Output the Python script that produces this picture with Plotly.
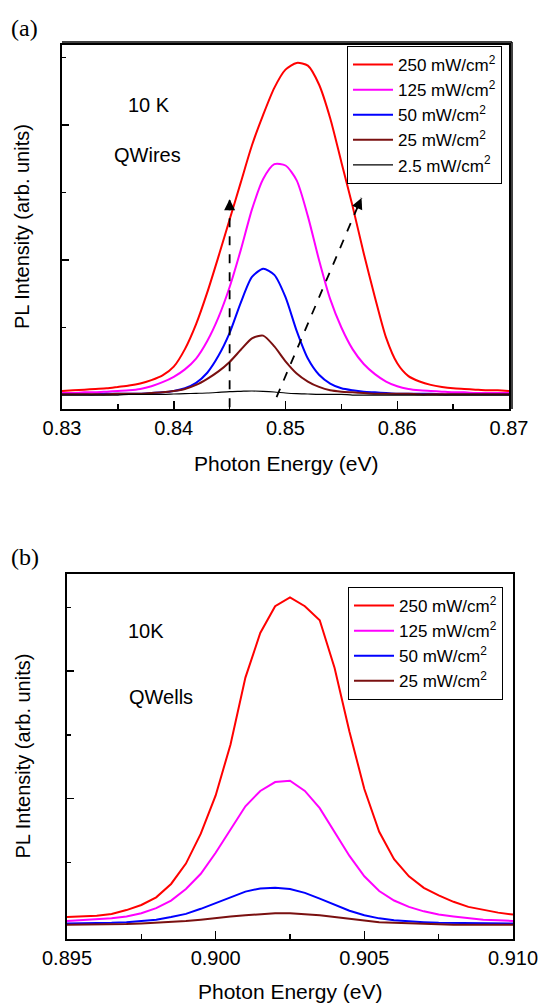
import plotly.graph_objects as go

W, H = 542, 1003

# ---------------- Panel (a): QWires ----------------
energy_a = [0.830, 0.831, 0.832, 0.833, 0.834, 0.835, 0.836, 0.837, 0.838, 0.839,
            0.840, 0.841, 0.842, 0.843, 0.844, 0.845, 0.846, 0.847, 0.848, 0.849,
            0.850, 0.851, 0.852, 0.853, 0.854, 0.855, 0.856, 0.857, 0.858, 0.859,
            0.860, 0.861, 0.862, 0.863, 0.864, 0.865, 0.866, 0.867, 0.868, 0.869, 0.870]
a_250 = [0.06, 0.07, 0.08, 0.09, 0.10, 0.12, 0.14, 0.17, 0.22, 0.29,
         0.42, 0.68, 1.05, 1.52, 2.05, 2.60, 3.15, 3.70, 4.15, 4.55,
         4.82, 4.92, 4.88, 4.60, 4.10, 3.45, 2.80, 2.10, 1.45, 0.85,
         0.47, 0.28, 0.20, 0.15, 0.12, 0.10, 0.09, 0.08, 0.07, 0.07, 0.06]
a_125 = [0.03, 0.03, 0.04, 0.04, 0.05, 0.06, 0.07, 0.09, 0.13, 0.19,
         0.27, 0.38, 0.54, 0.80, 1.15, 1.60, 2.15, 2.75, 3.20, 3.42,
         3.40, 3.18, 2.65, 2.00, 1.42, 1.00, 0.68, 0.46, 0.31, 0.20,
         0.13, 0.09, 0.07, 0.06, 0.05, 0.04, 0.04, 0.03, 0.03, 0.03, 0.03]
a_50 = [0.01, 0.01, 0.01, 0.01, 0.02, 0.02, 0.02, 0.02, 0.03, 0.04,
        0.06, 0.10, 0.18, 0.33, 0.58, 0.92, 1.37, 1.75, 1.87, 1.78,
        1.45, 0.95, 0.54, 0.30, 0.17, 0.10, 0.07, 0.05, 0.04, 0.03,
        0.02, 0.02, 0.02, 0.02, 0.01, 0.01, 0.01, 0.01, 0.01, 0.01, 0.01]
a_25 = [0.01, 0.01, 0.01, 0.01, 0.01, 0.02, 0.02, 0.02, 0.03, 0.04,
        0.06, 0.09, 0.15, 0.24, 0.35, 0.49, 0.67, 0.84, 0.88, 0.72,
        0.50, 0.32, 0.20, 0.12, 0.07, 0.05, 0.04, 0.03, 0.02, 0.02,
        0.02, 0.02, 0.01, 0.01, 0.01, 0.01, 0.01, 0.01, 0.01, 0.01, 0.01]
a_2p5 = [0.00, 0.00, 0.00, 0.00, 0.00, 0.00, 0.01, 0.01, 0.01, 0.01,
         0.015, 0.02, 0.025, 0.03, 0.04, 0.05, 0.055, 0.06, 0.055, 0.045,
         0.03, 0.02, 0.015, 0.01, 0.01, 0.01, 0.00, 0.00, 0.00, 0.00,
         0.00, 0.00, 0.00, 0.00, 0.00, 0.00, 0.00, 0.00, 0.00, 0.00, 0.00]

# dashed arrows (start -> end), data coordinates
arrow1_x = [0.845, 0.845]
arrow1_y = [-0.18, 2.90]
arrow2_x = [0.8492, 0.8568]
arrow2_y = [-0.03, 2.92]

# ---------------- Panel (b): QWells ----------------
energy_b = [0.8950, 0.8955, 0.8960, 0.8965, 0.8970, 0.8975, 0.8980, 0.8985, 0.8990, 0.8995,
            0.9000, 0.9005, 0.9010, 0.9015, 0.9020, 0.9025, 0.9030, 0.9035, 0.9040, 0.9045,
            0.9050, 0.9055, 0.9060, 0.9065, 0.9070, 0.9075, 0.9080, 0.9085, 0.9090, 0.9095, 0.9100]
b_250 = [0.14, 0.15, 0.16, 0.19, 0.25, 0.33, 0.45, 0.66, 0.98, 1.45,
         2.05, 2.85, 3.90, 4.60, 5.02, 5.16, 5.02, 4.80, 4.05, 3.05,
         2.15, 1.48, 1.05, 0.78, 0.60, 0.48, 0.38, 0.30, 0.25, 0.21, 0.18]
b_125 = [0.08, 0.09, 0.10, 0.12, 0.15, 0.20, 0.28, 0.40, 0.58, 0.82,
         1.15, 1.52, 1.88, 2.12, 2.26, 2.28, 2.12, 1.85, 1.48, 1.10,
         0.78, 0.55, 0.40, 0.30, 0.23, 0.18, 0.15, 0.12, 0.10, 0.09, 0.08]
b_50 = [0.04, 0.04, 0.05, 0.05, 0.06, 0.08, 0.10, 0.14, 0.19, 0.27,
        0.36, 0.46, 0.54, 0.59, 0.60, 0.58, 0.52, 0.43, 0.33, 0.24,
        0.17, 0.12, 0.09, 0.07, 0.06, 0.05, 0.05, 0.04, 0.04, 0.04, 0.04]
b_25 = [0.02, 0.02, 0.02, 0.03, 0.03, 0.04, 0.05, 0.06, 0.08, 0.10,
        0.13, 0.15, 0.17, 0.19, 0.20, 0.20, 0.19, 0.17, 0.14, 0.11,
        0.08, 0.06, 0.05, 0.04, 0.03, 0.03, 0.02, 0.02, 0.02, 0.02, 0.02]

labels_a = ["250 mW/cm<sup>2</sup>", "125 mW/cm<sup>2</sup>", "50 mW/cm<sup>2</sup>",
            "25 mW/cm<sup>2</sup>", "2.5 mW/cm<sup>2</sup>"]
labels_b = labels_a[:4]
colors = ["#FF0000", "#FF00FF", "#0000FF", "#7A1010", "#000000"]
widths = [2, 2, 2, 2, 1.2]

xticks_a = [0.83, 0.84, 0.85, 0.86, 0.87]
xticks_b = [0.895, 0.900, 0.905, 0.910]

FONT = "Liberation Sans, Arial, sans-serif"

fig = go.Figure()

for ys, lab, c, w in zip([a_250, a_125, a_50, a_25, a_2p5], labels_a, colors, widths):
    fig.add_trace(go.Scatter(x=energy_a, y=ys, mode="lines", name=lab,
                             line=dict(color=c, width=w, shape="spline", smoothing=0.7),
                             legend="legend", xaxis="x", yaxis="y"))

for ax_, ay_ in [(arrow1_x, arrow1_y), (arrow2_x, arrow2_y)]:
    fig.add_trace(go.Scatter(x=ax_, y=ay_, mode="lines", showlegend=False,
                             line=dict(color="black", width=1.8, dash="dash"),
                             xaxis="x", yaxis="y", hoverinfo="skip"))
    dx = ax_[1] - ax_[0]
    dy = ay_[1] - ay_[0]
    fig.add_annotation(x=ax_[1], y=ay_[1], ax=ax_[1] - dx * 0.06, ay=ay_[1] - dy * 0.06,
                       xref="x", yref="y", axref="x", ayref="y", text="",
                       showarrow=True, arrowhead=2, arrowsize=1.1, arrowwidth=2,
                       arrowcolor="black")

for ys, lab, c, w in zip([b_250, b_125, b_50, b_25], labels_b, colors, widths):
    fig.add_trace(go.Scatter(x=energy_b, y=ys, mode="lines", name=lab,
                             line=dict(color=c, width=w),
                             legend="legend2", xaxis="x2", yaxis="y2"))

def px_x(p):
    return p / W

def px_y(p):
    return 1 - p / H

# panel geometry in pixels
A_L, A_R, A_T, A_B = 62, 509, 45, 409
B_L, B_R, B_T, B_B = 67, 513, 574, 939

tickfont = dict(family=FONT, size=20, color="black")

common_axis = dict(showline=True, linecolor="black", linewidth=2, mirror=True,
                   showgrid=False, zeroline=False, ticks="inside", tickcolor="black",
                   tickwidth=1.5, automargin=False, fixedrange=True)

legend_style = dict(xanchor="left", yanchor="top", bordercolor="black", borderwidth=1,
                    bgcolor="white", font=dict(family=FONT, size=17, color="black"),
                    tracegroupgap=0, itemwidth=40)

fig.update_layout(
    width=W, height=H, margin=dict(l=0, r=0, t=0, b=0),
    paper_bgcolor="white", plot_bgcolor="white", template="none",
    font=dict(family=FONT, size=18, color="black"),
    xaxis=dict(domain=[px_x(A_L), px_x(A_R)], range=[0.83, 0.87], anchor="y",
               tickvals=xticks_a, ticktext=[f"{v:.2f}" for v in xticks_a],
               ticklen=8, tickfont=tickfont,
               minor=dict(dtick=0.005, tick0=0.83, ticklen=5, ticks="inside",
                          tickcolor="black", tickwidth=1.5),
               **common_axis),
    yaxis=dict(domain=[px_y(A_B), px_y(A_T)], range=[-0.207, 5.185], anchor="x",
               tickvals=[2, 4], ticklen=7, showticklabels=False,
               minor=dict(tickvals=[1, 3, 5], ticklen=4, ticks="inside",
                          tickcolor="black", tickwidth=1.5),
               **common_axis),
    xaxis2=dict(domain=[px_x(B_L), px_x(B_R)], range=[0.895, 0.910], anchor="y2",
                tickvals=xticks_b, ticktext=[f"{v:.3f}" for v in xticks_b],
                ticklen=8, tickfont=tickfont,
                minor=dict(dtick=0.0025, tick0=0.895, ticklen=5, ticks="inside",
                           tickcolor="black", tickwidth=1.5),
                **common_axis),
    yaxis2=dict(domain=[px_y(B_B), px_y(B_T)], range=[-0.204, 5.526], anchor="x2",
                tickvals=[2, 4], ticklen=7, showticklabels=False,
                minor=dict(tickvals=[1, 3, 5], ticklen=4, ticks="inside",
                           tickcolor="black", tickwidth=1.5),
                **common_axis),
    legend=dict(x=px_x(347), y=px_y(46), **legend_style),
    legend2=dict(x=px_x(348), y=px_y(587), **legend_style),
    showlegend=True,
)

# double frame on top/right of panel (a)
off = 3
fig.add_shape(type="line", xref="paper", yref="paper",
              x0=px_x(A_L), x1=px_x(A_R + off), y0=px_y(A_T - off), y1=px_y(A_T - off),
              line=dict(color="black", width=1.5))
fig.add_shape(type="line", xref="paper", yref="paper",
              x0=px_x(A_R + off), x1=px_x(A_R + off), y0=px_y(A_T - off), y1=px_y(A_B),
              line=dict(color="black", width=1.5))

def label(text, x, y, size=20, family=FONT, xanchor="left", textangle=0):
    fig.add_annotation(text=text, x=px_x(x), y=px_y(y), xref="paper", yref="paper",
                       xanchor=xanchor, yanchor="middle", showarrow=False,
                       textangle=textangle,
                       font=dict(family=family, size=size, color="black"))

SERIF = "Liberation Serif, Times New Roman, serif"
label("(a)", 9, 28, size=24, family=SERIF)
label("(b)", 9, 557, size=24, family=SERIF)
label("10 K", 126, 105)
label("QWires", 112, 155)
label("10K", 126, 631)
label("QWells", 127, 697)
label("Photon Energy (eV)", (A_L + A_R) / 2, 463, size=21, xanchor="center")
label("Photon Energy (eV)", (B_L + B_R) / 2, 991, size=21, xanchor="center")
label("PL Intensity (arb. units)", 22, (A_T + A_B) / 2, xanchor="center", textangle=-90)
label("PL Intensity (arb. units)", 22, (B_T + B_B) / 2, xanchor="center", textangle=-90)

fig.write_html("out.html", config={"displayModeBar": False, "staticPlot": True},
               post_script="document.body.style.margin='0';document.body.style.overflow='hidden';")
